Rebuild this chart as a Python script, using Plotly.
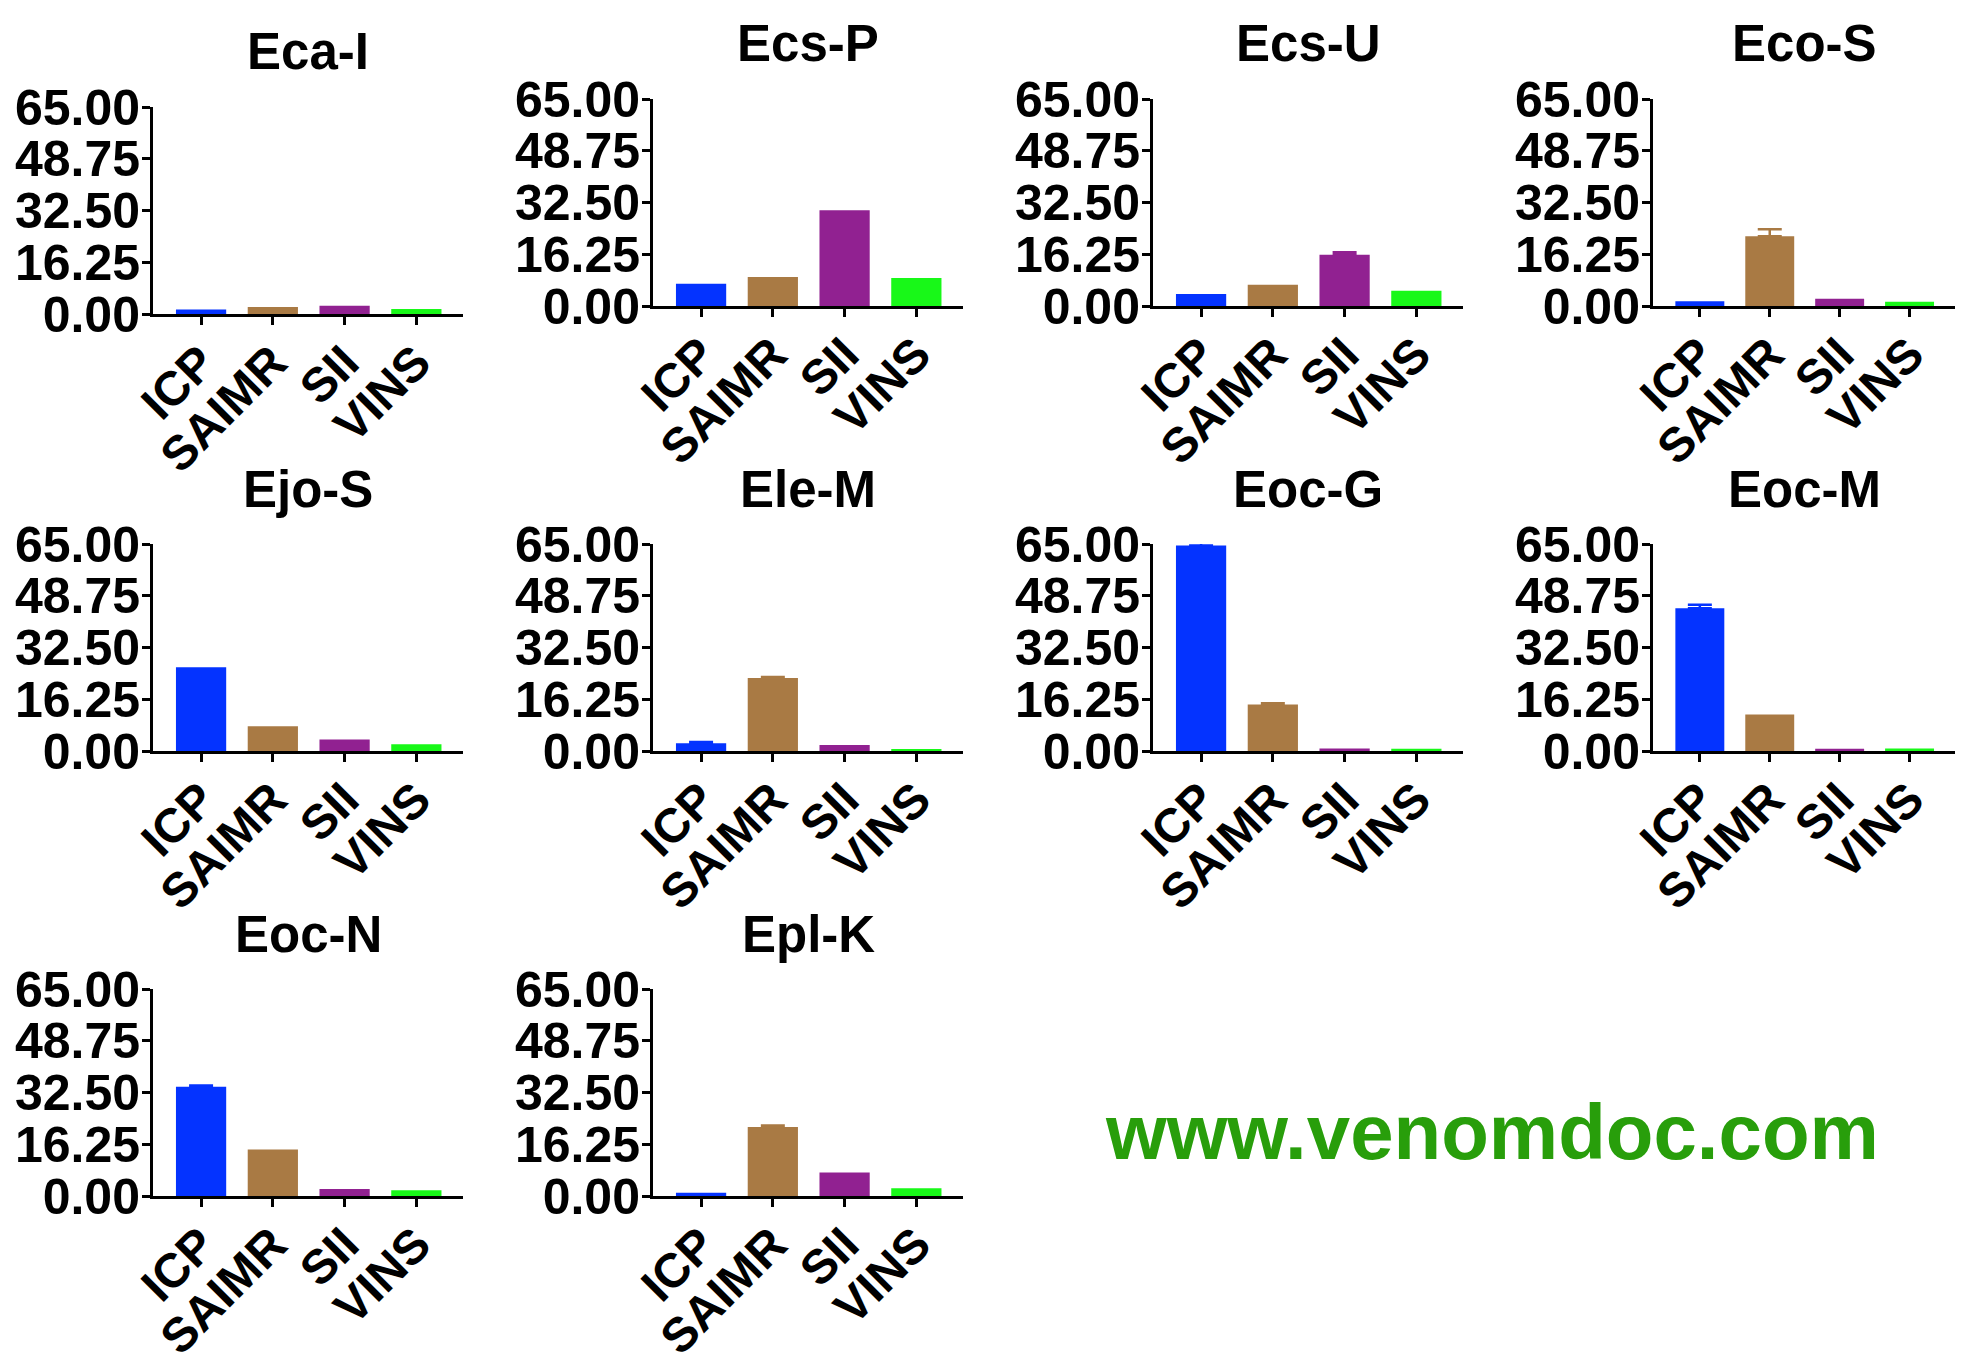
import plotly.graph_objects as go

# ---------------- data ----------------
categories = ["ICP", "SAIMR", "SII", "VINS"]
panel_titles = ["Eca-I", "Ecs-P", "Ecs-U", "Eco-S", "Ejo-S", "Ele-M",
                "Eoc-G", "Eoc-M", "Eoc-N", "Epl-K"]

eca_i = [1.4, 2.2, 2.6, 1.6]
ecs_p = [7.0, 9.1, 30.1, 8.8]
ecs_u = [3.8, 6.7, 16.1, 4.8]
eco_s = [1.5, 21.9, 2.3, 1.3]
ejo_s = [26.3, 7.8, 3.6, 2.1]
ele_m = [2.4, 22.9, 1.9, 0.6]
eoc_g = [64.5, 14.6, 0.8, 0.7]
eoc_m = [44.8, 11.5, 0.7, 0.8]
eoc_n = [34.3, 14.6, 2.2, 1.8]
epl_k = [1.0, 21.7, 7.4, 2.4]

eca_i_err = [0, 0, 0, 0]
ecs_p_err = [0, 0, 0, 0]
ecs_u_err = [0, 0, 0.8, 0]
eco_s_err = [0, 2.2, 0, 0]
ejo_s_err = [0, 0, 0, 0]
ele_m_err = [0.4, 0.3, 0, 0]
eoc_g_err = [1.2, 0.4, 0, 0]
eoc_m_err = [1.1, 0, 0, 0]
eoc_n_err = [0.4, 0, 0, 0]
epl_k_err = [0, 0.4, 0, 0]

y_ticks = [0, 16.25, 32.5, 48.75, 65]

values = [eca_i, ecs_p, ecs_u, eco_s, ejo_s, ele_m, eoc_g, eoc_m, eoc_n, epl_k]
errors = [eca_i_err, ecs_p_err, ecs_u_err, eco_s_err, ejo_s_err, ele_m_err,
          eoc_g_err, eoc_m_err, eoc_n_err, epl_k_err]

# ---------------- style / layout ----------------
bar_colors = ["#0433FF", "#A97A44", "#912191", "#18F818"]
FONT = "Liberation Sans, Arial, sans-serif"

W, H = 1947, 1356      # figure size (page has 8px body margin)
OX, OY = 8, 8

def px_x(X):
    return min(max((X - OX) / W, 0), 1)

def px_y(Y):
    return min(max(1 - (Y - OY) / H, 0), 1)

col_left = [153, 653, 1153, 1653]
row_geom = [(99, 306), (544, 751), (989, 1196)]

fig = go.Figure()
layout = dict(
    width=W, height=H,
    margin=dict(l=0, r=0, t=0, b=0, autoexpand=False),
    paper_bgcolor="white", plot_bgcolor="white",
    showlegend=False,
    font=dict(family=FONT, color="black"),
    annotations=[],
)

xpos = list(range(len(categories)))

for i, (title, vals, errs) in enumerate(zip(panel_titles, values, errors)):
    r, c = divmod(i, 4)
    left = col_left[c]
    right = left + 310
    top, bot = row_geom[r]
    if i == 0:
        top, bot = 107, 314
    n = i + 1
    xa = "x" if n == 1 else f"x{n}"
    ya = "y" if n == 1 else f"y{n}"
    fig.add_trace(go.Bar(
        x=xpos, y=vals, xaxis=xa, yaxis=ya, width=0.70,
        marker=dict(color=bar_colors, line=dict(width=0)),
        hoverinfo="skip",
    ))
    for k in range(len(categories)):
        if errs[k] > 0:
            fig.add_trace(go.Scatter(
                x=[xpos[k]], y=[vals[k]], xaxis=xa, yaxis=ya, mode="markers",
                marker=dict(size=1, color="rgba(0,0,0,0)"),
                error_y=dict(type="data", array=[errs[k]], arrayminus=[0],
                             symmetric=False, color=bar_colors[k],
                             thickness=2.5, width=12),
                hoverinfo="skip",
            ))
    axis_common = dict(showline=True, linewidth=3, linecolor="black",
                       ticks="outside", ticklen=8, tickwidth=3, tickcolor="black",
                       showgrid=False, zeroline=False, fixedrange=True,
                       automargin=False)
    layout["xaxis" if n == 1 else f"xaxis{n}"] = dict(
        axis_common, domain=[px_x(left), px_x(right)], anchor=ya,
        range=[-0.67, 3.65], tickmode="array", tickvals=xpos, ticktext=categories,
        tickangle=-45, ticklabelstandoff=-10,
        tickfont=dict(family=FONT, size=48, weight=700, color="black"),
    )
    layout["yaxis" if n == 1 else f"yaxis{n}"] = dict(
        axis_common, domain=[px_y(bot), px_y(top)], anchor=xa,
        range=[0, 65], tickmode="array", tickvals=y_ticks,
        ticktext=[f"{v:.2f}" for v in y_ticks], ticklabelstandoff=-8,
        tickfont=dict(family=FONT, size=50, weight=700, color="black"),
    )
    layout["annotations"].append(dict(
        text=title, xref=f"{xa} domain", yref=f"{ya} domain",
        x=0.5, y=1, xanchor="center", yanchor="middle", yshift=55,
        showarrow=False, font=dict(family=FONT, size=51, weight=700, color="black"),
    ))

layout["annotations"].append(dict(
    text="www.venomdoc.com", xref="paper", yref="paper",
    x=px_x(1492), y=px_y(1132), xanchor="center", yanchor="middle",
    showarrow=False, font=dict(family=FONT, size=78, weight=700, color="#289E0B"),
))

fig.update_layout(**layout)
fig.write_html("out.html")
